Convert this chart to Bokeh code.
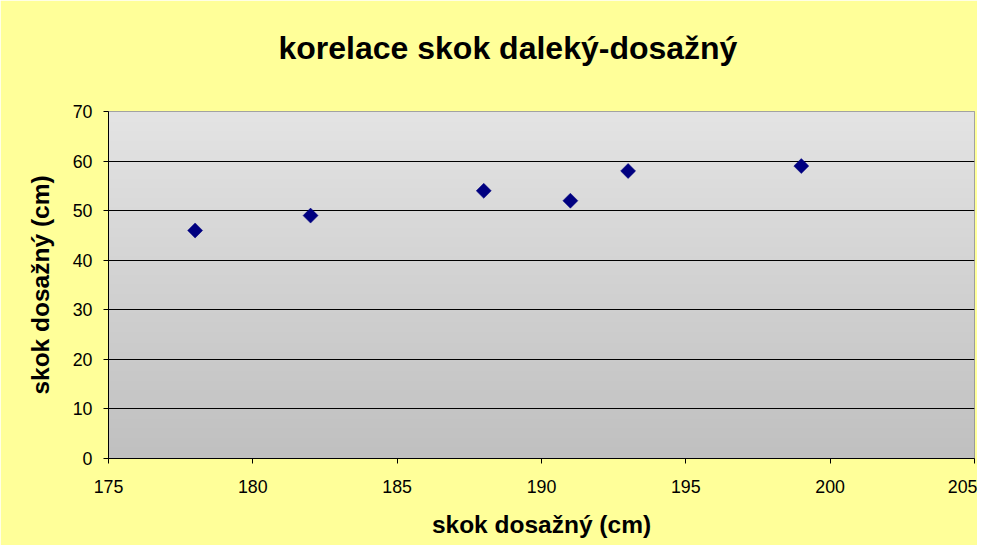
import numpy as np
from bokeh.plotting import figure
from bokeh.models import Range1d, FixedTicker, Title
from bokeh.embed import file_html
from bokeh.resources import INLINE

# ---- data ----
title_text = "korelace skok daleký-dosažný"
x_label = "skok dosažný (cm)"
y_label = "skok dosažný (cm)"
x_vals = [178, 182, 188, 191, 193, 199]
y_vals = [46, 49, 54, 52, 58, 59]
x_ticks = [175, 180, 185, 190, 195, 200, 205]
y_ticks = [0, 10, 20, 30, 40, 50, 60, 70]

FONT = "Liberation Sans"
YELLOW = "#FFFF99"

p = figure(width=977, height=545, output_backend="svg", toolbar_location=None,
           x_range=Range1d(x_ticks[0], x_ticks[-1]),
           y_range=Range1d(y_ticks[0], y_ticks[-1]),
           min_border_left=108, min_border_right=3,
           min_border_top=111, min_border_bottom=87,
           border_fill_color=YELLOW, background_fill_color="#d2d2d2",
           outline_line_color="#8c8c8c", outline_line_width=1)

# vertical gradient for plot area
n = 256
top = np.array([228, 228, 228], dtype=float)
bot = np.array([192, 192, 192], dtype=float)
t = np.linspace(0, 1, n)[:, None]  # 0 at bottom row
cols = bot + (top - bot) * t
img = np.empty((n, 1), dtype=np.uint32)
view = img.view(dtype=np.uint8).reshape((n, 1, 4))
view[:, 0, 0] = cols[:, 0].astype(np.uint8)
view[:, 0, 1] = cols[:, 1].astype(np.uint8)
view[:, 0, 2] = cols[:, 2].astype(np.uint8)
view[:, 0, 3] = 255
p.image_rgba(image=[img], x=x_ticks[0], y=y_ticks[0],
             dw=x_ticks[-1] - x_ticks[0], dh=y_ticks[-1] - y_ticks[0], level="image")

# points
p.scatter(x_vals, y_vals, marker="square", size=10.6, angle=np.pi / 4,
          fill_color="#000080", line_color="#000080", line_width=0.5)

# grid
p.xgrid.grid_line_color = None
p.ygrid.ticker = FixedTicker(ticks=y_ticks)
p.ygrid.grid_line_color = "#000000"
p.ygrid.grid_line_width = 1

# axes
for ax in (p.xaxis[0], p.yaxis[0]):
    ax.axis_line_color = "#000000"
    ax.major_tick_line_color = "#000000"
    ax.major_tick_in = 0
    ax.major_tick_out = 5
    ax.minor_tick_line_color = None
    ax.major_label_text_font = FONT
    ax.major_label_text_font_size = "17.8px"
    ax.major_label_text_color = "#000000"
    ax.axis_label_text_font = FONT
    ax.axis_label_text_font_size = "24.5px"
    ax.axis_label_text_font_style = "bold"
    ax.axis_label_text_color = "#000000"

p.xaxis.ticker = FixedTicker(ticks=x_ticks)
p.yaxis.ticker = FixedTicker(ticks=y_ticks)
p.xaxis.axis_label = x_label
p.yaxis.axis_label = y_label
p.xaxis.major_label_standoff = 16
p.xaxis.axis_label_standoff = 15
p.yaxis.major_label_standoff = 11
p.yaxis.axis_label_standoff = 16

# spacer between title and plot area
p.add_layout(Title(text=" ", text_font_size="1px", standoff=43), "above")

# title
p.title.text = title_text
p.title.text_font = FONT
p.title.text_font_size = "32px"
p.title.text_font_style = "bold"
p.title.text_color = "#000000"
p.title.align = "left"
p.title.offset = 170
p.title.standoff = 0

open("out.html", "w").write(file_html(p, INLINE))
